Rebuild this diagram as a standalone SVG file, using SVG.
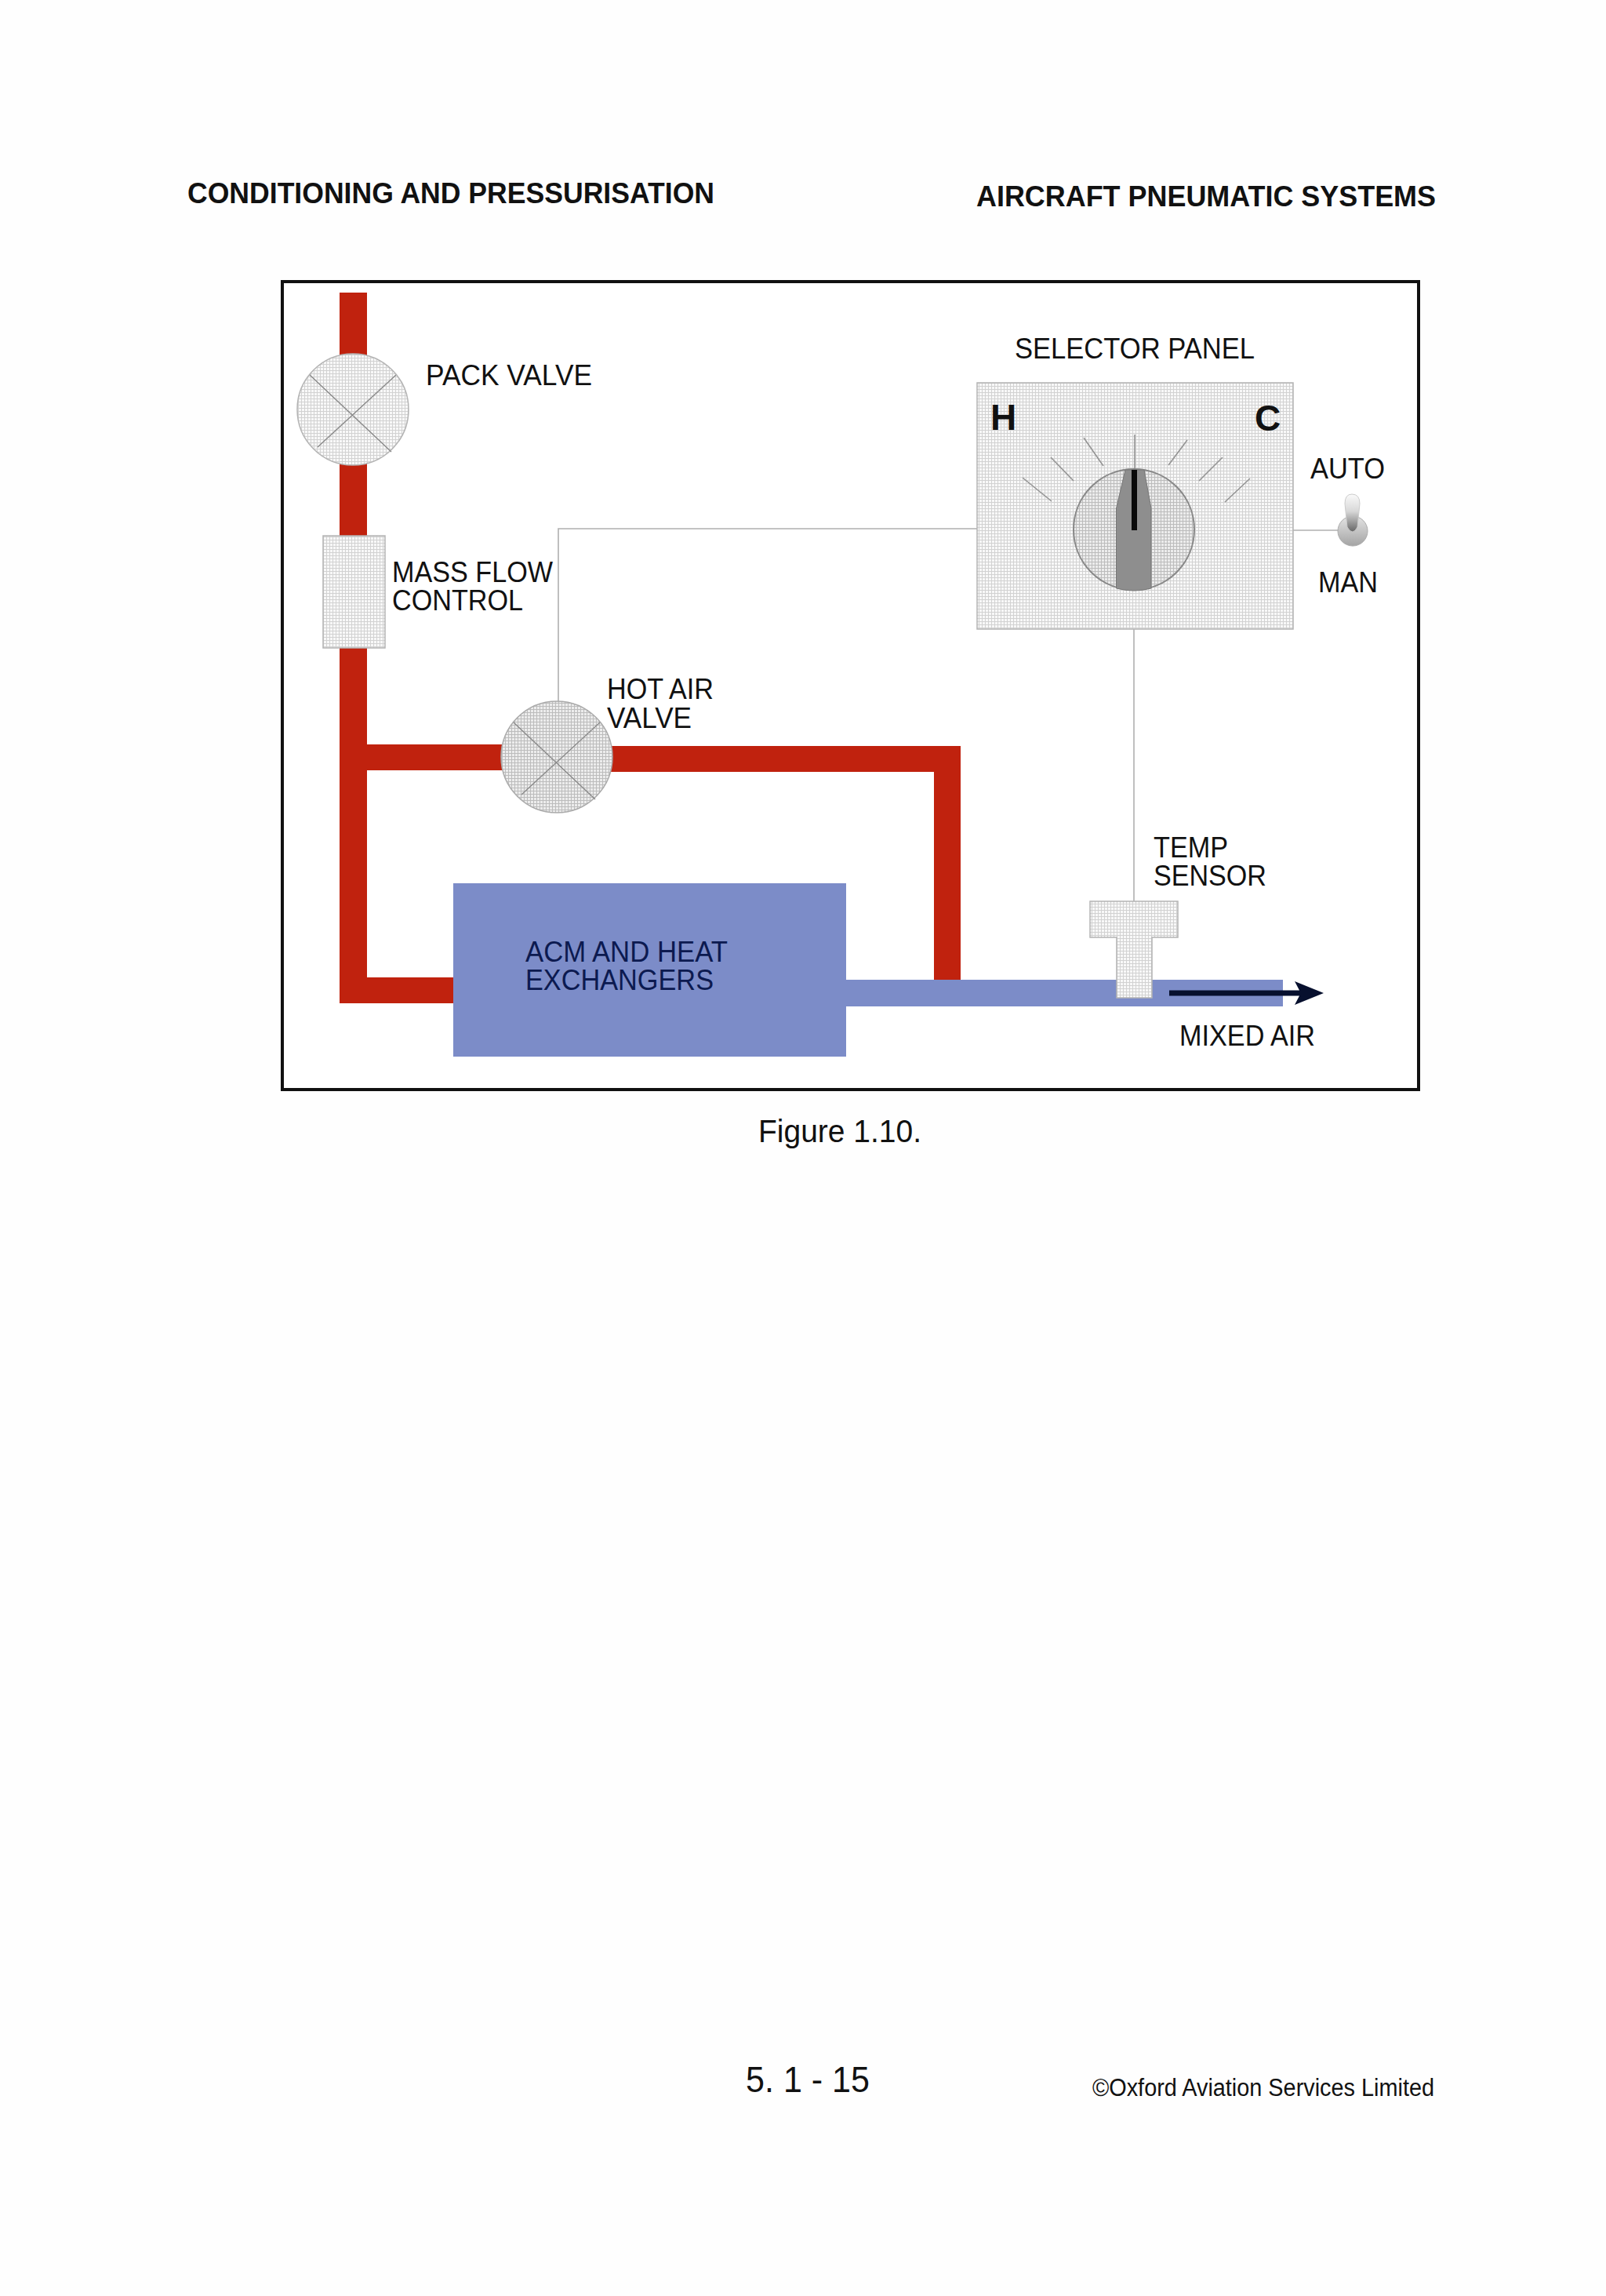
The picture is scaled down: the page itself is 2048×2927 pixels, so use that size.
<svg xmlns="http://www.w3.org/2000/svg" width="2048" height="2927" viewBox="0 0 2048 2927">
<defs>
<pattern id="mesh" width="4" height="4" patternUnits="userSpaceOnUse"><rect width="4" height="4" fill="#f8f8f8"/><path d="M0 .5H4M.5 0V4" stroke="#d2d2d2" stroke-width="1" fill="none"/></pattern>
<pattern id="meshD" width="4" height="4" patternUnits="userSpaceOnUse"><rect width="4" height="4" fill="#ececec"/><path d="M0 .5H4M.5 0V4" stroke="#bcbcbc" stroke-width="1" fill="none"/></pattern>
<linearGradient id="lever" x1="0" y1="0" x2="0" y2="1"><stop offset="0" stop-color="#fafafa"/><stop offset="0.45" stop-color="#d8d8d8"/><stop offset="1" stop-color="#666"/></linearGradient>
<linearGradient id="base" x1="0" y1="0" x2="0" y2="1"><stop offset="0" stop-color="#e4e4e4"/><stop offset="1" stop-color="#a4a4a4"/></linearGradient>
</defs>
<style>
text{font-family:"Liberation Sans",Arial,sans-serif;fill:#111}
.l{font-size:36px}
.b{font-weight:bold;font-size:36px}
.red{fill:#c0220e}
.blue{fill:#7c8cc8}
.wire{fill:none;stroke:#b0b0b0;stroke-width:1.6}
.tick{fill:none;stroke:#949494;stroke-width:1.6}
.x{fill:none;stroke:#8a8a8a;stroke-width:1.4}
.part{fill:url(#mesh);stroke:#b4b4b4;stroke-width:1.5}
</style>
<rect width="2048" height="2927" fill="#fefefe"/>
<text class="b" x="239" y="259" textLength="672" lengthAdjust="spacingAndGlyphs">CONDITIONING AND PRESSURISATION</text>
<text class="b" x="1245" y="263" textLength="586" lengthAdjust="spacingAndGlyphs">AIRCRAFT PNEUMATIC SYSTEMS</text>
<rect id="frame" x="360" y="359" width="1449" height="1030" fill="#fff" stroke="#111" stroke-width="4"/>
<g id="connectors">
<rect class="red" x="433" y="373" width="35" height="906"/>
<rect class="red" x="433" y="1246" width="150" height="33"/>
<rect class="red" x="468" y="949" width="250" height="33"/>
<rect class="red" x="700" y="951" width="525" height="33"/>
<rect class="red" x="1191" y="951" width="34" height="300"/>
<path class="wire" d="M1246 674H712V895"/>
<path class="wire" d="M1446 802V1150"/>
<path class="wire" d="M1649 676H1710"/>
</g>
<g id="pipe-mixed"><rect class="blue" x="1078" y="1249" width="558" height="34"/></g>
<g id="pack-valve">
<circle class="part" cx="450" cy="522" r="71"/>
<path class="x" d="M395 478L499 576M505 478L405 570"/>
<text class="l" x="543" y="491" textLength="212" lengthAdjust="spacingAndGlyphs">PACK VALVE</text>
</g>
<g id="mass-flow-control">
<rect class="part" x="412" y="683" width="79" height="143"/>
<text class="l" x="500" y="742" textLength="205" lengthAdjust="spacingAndGlyphs">MASS FLOW</text>
<text class="l" x="500" y="778" textLength="167" lengthAdjust="spacingAndGlyphs">CONTROL</text>
</g>
<g id="hot-air-valve">
<circle cx="710" cy="965" r="71" fill="url(#meshD)" stroke="#aaa" stroke-width="1.5"/>
<path class="x" d="M655 921L759 1019M765 921L665 1013"/>
<text class="l" x="774" y="891" textLength="136" lengthAdjust="spacingAndGlyphs">HOT AIR</text>
<text class="l" x="774" y="928" textLength="108" lengthAdjust="spacingAndGlyphs">VALVE</text>
</g>
<g id="selector-panel">
<text class="l" x="1294" y="457" textLength="306" lengthAdjust="spacingAndGlyphs">SELECTOR PANEL</text>
<rect class="part" x="1246" y="488" width="403" height="314"/>
<text x="1263" y="548" font-size="46" font-weight="bold" style="fill:#111">H</text>
<text x="1600" y="549" font-size="46" font-weight="bold" style="fill:#111">C</text>
<path class="tick" d="M1304 609L1341 639M1340 583L1369 613M1382 558L1407 594M1447 554V598M1514 561L1490 593M1559 583L1529 613M1594 610L1562 640"/>
<circle cx="1446" cy="675" r="77" fill="url(#meshD)" stroke="#888" stroke-width="2"/>
<path d="M1435 599H1459L1468 648V750Q1446 756 1423.500 750V648Z" fill="#8e8e8e" stroke="#777" stroke-width="1"/>
<rect x="1443" y="599" width="7" height="77" fill="#0a0a0a"/>
</g>
<g id="toggle">
<text class="l" x="1671" y="610" textLength="95" lengthAdjust="spacingAndGlyphs">AUTO</text>
<circle cx="1725" cy="677" r="19" fill="url(#base)" stroke="#aaa"/>
<path d="M1715 642Q1715 630 1724 630Q1734 630 1734 642L1731 672Q1725 684 1718 672Z" fill="url(#lever)" stroke="#ccc"/>
<text class="l" x="1681" y="755" textLength="76" lengthAdjust="spacingAndGlyphs">MAN</text>
</g>
<g id="temp-sensor">
<text class="l" x="1471" y="1093" textLength="95" lengthAdjust="spacingAndGlyphs">TEMP</text>
<text class="l" x="1471" y="1129" textLength="144" lengthAdjust="spacingAndGlyphs">SENSOR</text>
<path class="part" d="M1390 1149H1502V1195H1469V1272H1424V1195H1390Z"/>
</g>
<g id="acm">
<rect class="blue" x="578" y="1126" width="501" height="221"/>
<text class="l" x="670" y="1226" textLength="258" lengthAdjust="spacingAndGlyphs" style="fill:#0c1a50">ACM AND HEAT</text>
<text class="l" x="670" y="1262" textLength="240" lengthAdjust="spacingAndGlyphs" style="fill:#0c1a50">EXCHANGERS</text>
</g>
<g id="mixed-air">
<path d="M1491 1262.500H1657L1651 1251L1688 1266L1651 1281L1657 1269.500H1491Z" fill="#07102e"/>
<text class="l" x="1504" y="1333" textLength="173" lengthAdjust="spacingAndGlyphs">MIXED AIR</text>
</g>
<text x="967" y="1456" font-size="40" textLength="208" lengthAdjust="spacingAndGlyphs">Figure 1.10.</text>
<text x="951" y="2667" font-size="46" textLength="158" lengthAdjust="spacingAndGlyphs">5. 1 - 15</text>
<text x="1393" y="2672" font-size="31" textLength="436" lengthAdjust="spacingAndGlyphs">©Oxford Aviation Services Limited</text>
</svg>
